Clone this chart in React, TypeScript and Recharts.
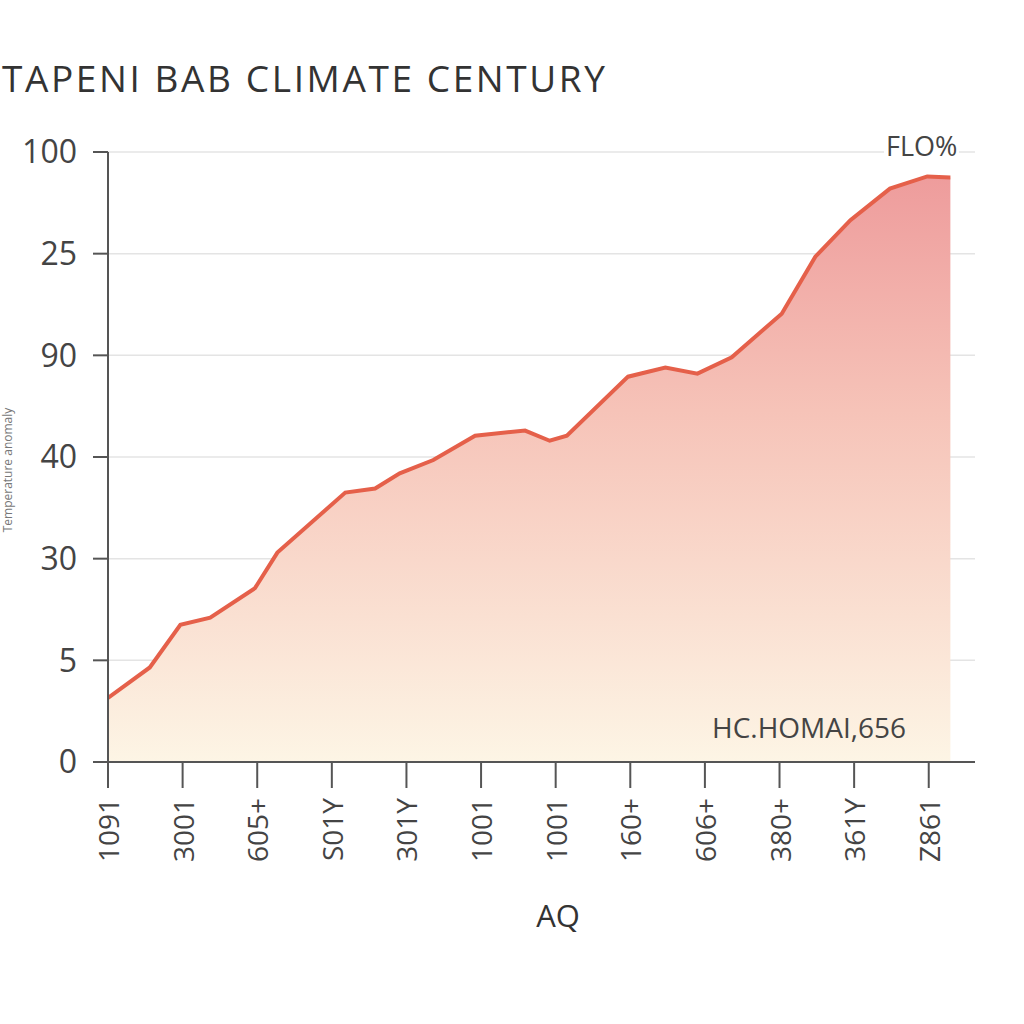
import React from "react";
import { AreaChart, Area, XAxis, YAxis, CartesianGrid } from "recharts";

const xValues = [0, 0.56, 0.97, 1.37, 1.97, 2.27, 3.18, 3.58, 3.91, 4.36, 4.92, 5.59, 5.92, 6.15, 6.97, 7.47, 7.9, 8.36, 9.03, 9.48, 9.95, 10.48, 10.98, 11.29];
const yValues = [0.63, 0.93, 1.35, 1.42, 1.71, 2.06, 2.65, 2.69, 2.84, 2.97, 3.21, 3.26, 3.16, 3.21, 3.79, 3.88, 3.82, 3.98, 4.41, 4.97, 5.33, 5.64, 5.76, 5.75];
const yTickLabels = ["0", "5", "30", "40", "90", "25", "100"];
const xTickLabels = ["1091", "3001", "605+", "S01Y", "301Y", "1001", "1001", "160+", "606+", "380+", "361Y", "Z861"];

const data = xValues.map((x, i) => ({ x, v: yValues[i] }));
const yTicks = yTickLabels.map((_, i) => i);
const xTicks = xTickLabels.map((_, i) => i);

const font = "'Open Sans', 'DejaVu Sans', sans-serif";

const XTick = (props: any) => {
  const { x, y, payload } = props;
  return (
    <text
      x={x}
      y={y}
      transform={`rotate(-90, ${x}, ${y})`}
      textAnchor="end"
      dominantBaseline="central"
      fill="#444"
      fontSize={28}
      fontFamily={font}
    >
      {xTickLabels[payload.value]}
    </text>
  );
};

export default function App() {
  return (
    <div style={{ position: "absolute", left: 0, top: 0, width: 1024, height: 1024, background: "#fff", overflow: "hidden", fontFamily: font }}>
      <AreaChart
        width={1024}
        height={1024}
        data={data}
        margin={{ top: 152, right: 49, left: 48, bottom: 152 }}
      >
        <defs>
          <linearGradient id="fillGrad" x1="0" y1="0" x2="0" y2="1">
            <stop offset="0%" stopColor="#ee9c9c" />
            <stop offset="40%" stopColor="#f6c3b8" />
            <stop offset="75%" stopColor="#fae0d2" />
            <stop offset="100%" stopColor="#fdf5e5" />
          </linearGradient>
        </defs>
        <CartesianGrid vertical={false} stroke="#e4e4e4" strokeWidth={1.5} />
        <XAxis
          type="number"
          dataKey="x"
          domain={[0, 11.62]}
          ticks={xTicks}
          interval={0}
          height={110}
          tickSize={26}
          tickMargin={10}
          stroke="#555"
          strokeWidth={2}
          tickLine={{ stroke: "#555", strokeWidth: 2 }}
          tick={<XTick />}
          allowDataOverflow
        />
        <YAxis
          type="number"
          domain={[0, 6]}
          ticks={yTicks}
          interval={0}
          width={60}
          tickSize={15}
          tickMargin={16}
          stroke="#555"
          strokeWidth={2}
          tickLine={{ stroke: "#555", strokeWidth: 2 }}
          tickFormatter={(v: number) => yTickLabels[v]}
          tick={{ fill: "#444", fontSize: 32, fontFamily: font }}
        />
        <Area
          type="linear"
          dataKey="v"
          stroke="#e5604a"
          strokeWidth={4}
          fill="url(#fillGrad)"
          fillOpacity={1}
          isAnimationActive={false}
          dot={false}
          activeDot={false}
        />
      </AreaChart>
      <div style={{ position: "absolute", left: 2, top: 54, fontSize: 37, letterSpacing: "2.6px", color: "#333", whiteSpace: "nowrap", lineHeight: "48px" }}>
        TAPENI BAB CLIMATE CENTURY
      </div>
      <div style={{ position: "absolute", left: 884, top: 128, fontSize: 27, color: "#444", background: "#fff", padding: "0 2px", lineHeight: "36px" }}>
        FLO%
      </div>
      <div style={{ position: "absolute", left: 712, top: 707, fontSize: 28, color: "#444", whiteSpace: "nowrap", lineHeight: "40px" }}>
        HC.HOMAI,656
      </div>
      <div style={{ position: "absolute", left: 508, top: 895, width: 100, textAlign: "center", fontSize: 31, color: "#333", lineHeight: "40px" }}>
        AQ
      </div>
      <div style={{ position: "absolute", left: -92, top: 462, width: 200, height: 16, textAlign: "center", fontSize: 12, color: "#777", transform: "rotate(-90deg)", whiteSpace: "nowrap", lineHeight: "16px" }}>
        Temperature anomaly
      </div>
    </div>
  );
}
